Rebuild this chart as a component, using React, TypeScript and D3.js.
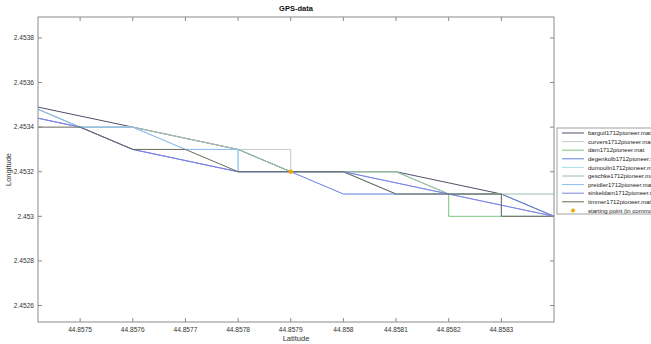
import * as d3 from 'd3';

// GPS tracks, [latitude, longitude] pairs
const barguil = [[44.8574, 2.4535], [44.8576, 2.4534], [44.8578, 2.4533], [44.8579, 2.4532], [44.8581, 2.4532], [44.8583, 2.4531], [44.8584, 2.453]];
const curvers = [[44.8574, 2.4535], [44.8575, 2.4534], [44.8576, 2.4534], [44.8578, 2.4533], [44.8579, 2.4533], [44.8579, 2.4532], [44.858, 2.4532], [44.8581, 2.4531], [44.8583, 2.4531], [44.8584, 2.453]];
const dam = [[44.8578, 2.4533], [44.8579, 2.4532], [44.8581, 2.4532], [44.8582, 2.4531], [44.8582, 2.453], [44.8584, 2.453]];
const degenkolb = [[44.8573, 2.4535], [44.8575, 2.4534], [44.8576, 2.4533], [44.8578, 2.4532], [44.8579, 2.4532], [44.858, 2.4531], [44.8581, 2.4531], [44.8583, 2.4531], [44.8584, 2.453]];
const dumoulin = [[44.8574, 2.4535], [44.8575, 2.4534], [44.8576, 2.4534], [44.8577, 2.4533], [44.8578, 2.4533], [44.8578, 2.4532], [44.858, 2.4532], [44.8581, 2.4531], [44.8583, 2.4531], [44.8583, 2.453], [44.8584, 2.453]];
const geschke = [[44.8574, 2.4535], [44.8575, 2.4534], [44.8576, 2.4534], [44.8578, 2.4533], [44.8579, 2.4532], [44.8581, 2.4532], [44.8582, 2.4531], [44.8584, 2.4531]];
const preidler = [[44.8574, 2.4535], [44.8575, 2.4534], [44.8576, 2.4534], [44.8577, 2.4533], [44.8578, 2.4533], [44.8578, 2.4532], [44.858, 2.4532], [44.8584, 2.453]];
const sinkeldam = [[44.8573, 2.4535], [44.8575, 2.4534], [44.8576, 2.4533], [44.8578, 2.4532], [44.858, 2.4532], [44.8582, 2.4531], [44.8584, 2.453]];
const timmer = [[44.8573, 2.4534], [44.8575, 2.4534], [44.8576, 2.4533], [44.8577, 2.4533], [44.8578, 2.4532], [44.858, 2.4532], [44.8581, 2.4531], [44.8583, 2.4531], [44.8583, 2.453], [44.8584, 2.453]];
const startPoint = [44.8579, 2.4532];

const trackNames = ['barguil1712pioneer.mat', 'curvers1712pioneer.mat', 'dam1712pioneer.mat', 'degenkolb1712pioneer.mat', 'dumoulin1712pioneer.mat', 'geschke1712pioneer.mat', 'preidler1712pioneer.mat', 'sinkeldam1712pioneer.mat', 'timmer1712pioneer.mat'];
const trackColors = ['#50506a', '#c4caca', '#7cc47c', '#6080e4', '#a6dfe6', '#9ebcae', '#8ebcf2', '#8080e6', '#6a6a5a'];
const tracks = [barguil, curvers, dam, degenkolb, dumoulin, geschke, preidler, sinkeldam, timmer];

const xTicks = [44.8575, 44.8576, 44.8577, 44.8578, 44.8579, 44.858, 44.8581, 44.8582, 44.8583];
const xTickLabels = ['44.8575', '44.8576', '44.8577', '44.8578', '44.8579', '44.858', '44.8581', '44.8582', '44.8583'];
const yTicks = [2.4526, 2.4528, 2.453, 2.4532, 2.4534, 2.4536, 2.4538];
const yTickLabels = ['2.4526', '2.4528', '2.453', '2.4532', '2.4534', '2.4536', '2.4538'];

const W = 651;
const H = 344;
const font = '"Liberation Sans", Arial, sans-serif';

export default function App() {
  const left = 38, right = 554, top = 17, bottom = 322;
  const x = d3.scaleLinear().domain([44.85742, 44.8584]).range([left, right]);
  const y = d3.scaleLinear().domain([2.452526, 2.453894]).range([bottom, top]);
  const line = d3.line<number[]>().x(d => x(d[0])).y(d => y(d[1]));
  const axisColor = '#8a8a8a';
  const textColor = '#333';

  const legX = 557, legY = 128, legW = 110, legH = 86, rowH = 8.6;

  return (
    <div style={{ position: 'fixed', left: 0, top: 0 }}>
      <svg width={W} height={H} style={{ display: 'block', background: '#fff' }}>
        <defs>
          <clipPath id="plotclip">
            <rect x={left} y={top} width={right - left} height={bottom - top} />
          </clipPath>
        </defs>
        <rect x={0} y={0} width={W} height={H} fill="#fff" />
        <text x={(left + right) / 2} y={11} textAnchor="middle" fontFamily={font} fontSize={7.5} fontWeight="bold" fill="#111">GPS-data</text>

        <g clipPath="url(#plotclip)">
          {tracks.map((t, i) => (
            <path key={trackNames[i]} d={line(t) || ''} fill="none" stroke={trackColors[i]} strokeWidth={1} />
          ))}
          <circle cx={x(startPoint[0])} cy={y(startPoint[1])} r={2.2} fill="#f5a800" />
        </g>

        {/* axes box */}
        <rect x={left} y={top} width={right - left} height={bottom - top} fill="none" stroke={axisColor} strokeWidth={1} />
        {xTicks.map((v, i) => (
          <g key={'x' + v}>
            <line x1={x(v)} x2={x(v)} y1={bottom} y2={bottom - 4} stroke={axisColor} />
            <line x1={x(v)} x2={x(v)} y1={top} y2={top + 4} stroke={axisColor} />
            <text x={x(v)} y={332} textAnchor="middle" fontFamily={font} fontSize={6.6} fill={textColor}>{xTickLabels[i]}</text>
          </g>
        ))}
        {yTicks.map((v, i) => (
          <g key={'y' + v}>
            <line x1={left} x2={left + 4} y1={y(v)} y2={y(v)} stroke={axisColor} />
            <line x1={right} x2={right - 4} y1={y(v)} y2={y(v)} stroke={axisColor} />
            <text x={34} y={y(v) + 2.3} textAnchor="end" fontFamily={font} fontSize={6.6} fill={textColor}>{yTickLabels[i]}</text>
          </g>
        ))}
        <text x={(left + right) / 2} y={341} textAnchor="middle" fontFamily={font} fontSize={7.5} fill={textColor}>Latitude</text>
        <text transform={`translate(11,${(top + bottom) / 2}) rotate(-90)`} textAnchor="middle" fontFamily={font} fontSize={7.5} fill={textColor}>Longitude</text>

        {/* legend */}
        <rect x={legX} y={legY} width={legW} height={legH} fill="#fff" stroke={axisColor} strokeWidth={0.8} />
        {trackNames.map((n, i) => (
          <g key={'l' + n}>
            <line x1={legX + 5} x2={legX + 27} y1={legY + 5 + i * rowH} y2={legY + 5 + i * rowH} stroke={trackColors[i]} strokeWidth={1} />
            <text x={legX + 31} y={legY + 7.2 + i * rowH} fontFamily={font} fontSize={6} fill="#222">{n}</text>
          </g>
        ))}
        <circle cx={legX + 16} cy={legY + 5 + 9 * rowH} r={2} fill="#f5a800" />
        <text x={legX + 31} y={legY + 7.2 + 9 * rowH} fontFamily={font} fontSize={6} fill="#222">starting point (in common)</text>
      </svg>
    </div>
  );
}
